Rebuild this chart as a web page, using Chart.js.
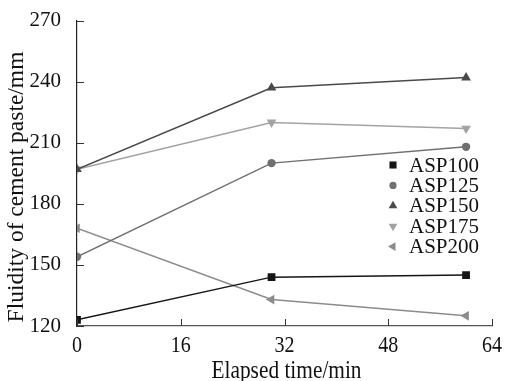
<!DOCTYPE html>
<html>
<head>
<meta charset="utf-8">
<script src="https://cdn.jsdelivr.net/npm/chart.js@4"></script>
<style>
  html, body { margin: 0; padding: 0; background: #fff; }
  #wrap { width: 505px; height: 381px; }
</style>
</head>
<body>
<div id="wrap"><canvas id="chart" width="505" height="381"></canvas></div>
<script>
/* ── DATA ─────────────────────────────────────────────── */
const times   = [0, 30, 60];
const asp100  = [123, 144, 145];
const asp125  = [154, 200, 208];
const asp150  = [197, 237, 242];
const asp175  = [197, 220, 217];
const asp200  = [168, 133, 125];
const xTicks  = [0, 16, 32, 48, 64];
const yTicks  = [120, 150, 180, 210, 240, 270];
const xTitle  = 'Elapsed time/min';
const yTitle  = 'Fluidity of cement paste/mm';

const FONT = "'Liberation Serif', 'DejaVu Serif', serif";

function series(label, values, color, style, rotation, radius) {
  return {
    label,
    data: times.map((t, i) => ({ x: t, y: values[i] })),
    borderColor: color,
    backgroundColor: color,
    borderWidth: 1.5,
    pointStyle: style,
    pointRotation: rotation,
    pointRadius: radius,
    pointBorderWidth: 0,
    tension: 0,
  };
}

/* inward tick marks + x labels + axis titles, placed from the library's scales */
const axisDecor = {
  id: 'axisDecor',
  afterDraw(chart) {
    const { ctx, scales: { x, y }, chartArea } = chart;
    ctx.save();
    ctx.strokeStyle = '#333';
    ctx.lineWidth = 1;
    xTicks.forEach(v => {
      const px = Math.round(x.getPixelForValue(v)) + 0.5;
      ctx.beginPath();
      ctx.moveTo(px, chartArea.bottom);
      ctx.lineTo(px, chartArea.bottom - 7);
      ctx.stroke();
    });
    yTicks.forEach(v => {
      const py = Math.round(y.getPixelForValue(v)) + 0.5;
      ctx.beginPath();
      ctx.moveTo(chartArea.left, py);
      ctx.lineTo(chartArea.left + 7, py);
      ctx.stroke();
    });

    ctx.fillStyle = '#111';
    ctx.textAlign = 'center';
    ctx.textBaseline = 'alphabetic';

    /* x tick labels, a bit taller than wide like the original */
    ctx.font = '20px ' + FONT;
    xTicks.forEach(v => {
      const px = x.getPixelForValue(v);
      ctx.save();
      ctx.translate(px, chartArea.bottom + 26);
      ctx.scale(1, 1.2);
      ctx.fillText(String(v), 0, 0);
      ctx.restore();
    });

    /* x title */
    ctx.save();
    ctx.translate((chartArea.left + chartArea.right) / 2 + 2, 377.5);
    ctx.scale(0.89, 1.04);
    ctx.font = '24px ' + FONT;
    ctx.fillText(xTitle, 0, 0);
    ctx.restore();

    /* y title */
    ctx.save();
    ctx.translate(23, 187);
    ctx.rotate(-Math.PI / 2);
    ctx.font = '23.5px ' + FONT;
    ctx.fillText(yTitle, 0, 0);
    ctx.restore();

    ctx.restore();
  }
};

/* legend sitting inside the plot */
const innerLegend = {
  id: 'innerLegend',
  afterDraw(chart) {
    const { ctx } = chart;
    ctx.save();
    ctx.font = '21px ' + FONT;
    ctx.textBaseline = 'middle';
    chart.data.datasets.forEach((ds, i) => {
      const y = 165 + i * 20.4;
      ctx.fillStyle = ds.backgroundColor;
      Chart.helpers.drawPoint(ctx, {
        pointStyle: ds.pointStyle,
        rotation: ds.pointRotation,
        radius: ds.pointStyle === 'circle' ? 3.6 : (ds.pointStyle === 'rect' ? 5 : 5),
        borderWidth: 0,
      }, 393, y);
      ctx.fillStyle = '#111';
      ctx.fillText(ds.label, 409, y + 1);
    });
    ctx.restore();
  }
};

new Chart(document.getElementById('chart'), {
  type: 'line',
  data: {
    datasets: [
      series('ASP100', asp100, '#151515', 'rect',     0,   5.5),
      series('ASP125', asp125, '#707070', 'circle',   0,   4.2),
      series('ASP150', asp150, '#4a4a4a', 'triangle', 0,   5.6),
      series('ASP175', asp175, '#a3a3a3', 'triangle', 180, 5.6),
      series('ASP200', asp200, '#8c8c8c', 'triangle', 270, 5.6),
    ]
  },
  options: {
    responsive: false,
    animation: false,
    layout: { padding: { top: 17, right: 13, left: 0, bottom: 0 } },
    plugins: { legend: { display: false }, tooltip: { enabled: false } },
    scales: {
      x: {
        type: 'linear',
        min: 0, max: 64,
        afterBuildTicks: s => { s.ticks = xTicks.map(v => ({ value: v })); },
        afterFit: s => { s.height = 55; },
        grid: { display: false },
        border: { display: true, color: '#555', width: 1.2 },
        ticks: { display: false },
        title: { display: false }
      },
      y: {
        min: 120, max: 270,
        afterBuildTicks: s => { s.ticks = yTicks.map(v => ({ value: v })); },
        afterFit: s => { s.width = 77; },
        grid: { display: false },
        border: { display: true, color: '#222', width: 1.2 },
        ticks: { color: '#111', padding: 8, font: { family: FONT, size: 21 } },
        title: { display: false }
      }
    }
  },
  plugins: [axisDecor, innerLegend]
});
</script>
</body>
</html>
